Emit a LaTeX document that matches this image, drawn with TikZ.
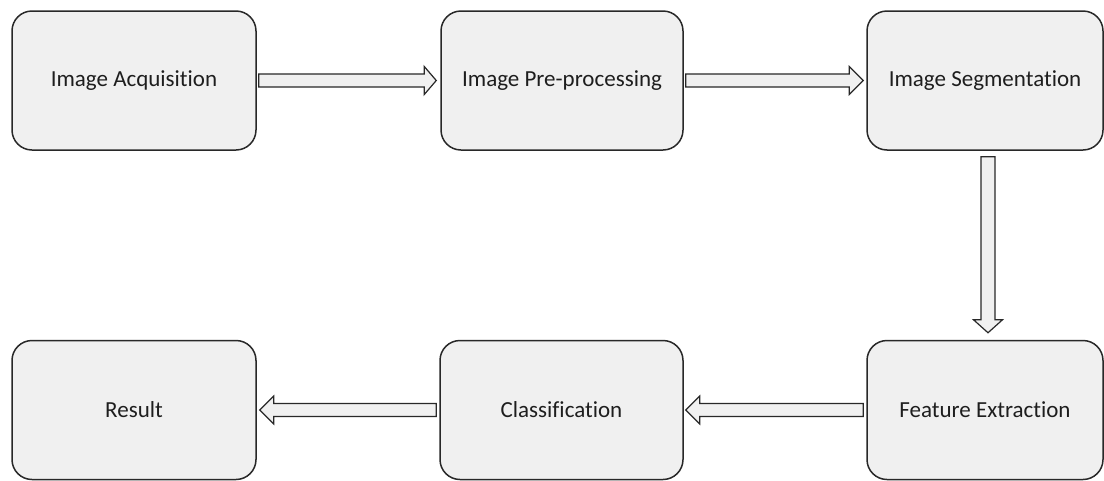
\documentclass[tikz,border=0pt]{standalone}
\usepackage{fontspec}
\setmainfont[Ligatures={NoCommon}]{Carlito}
\usetikzlibrary{calc}
\definecolor{boxfill}{RGB}{240,240,240}
\definecolor{edge}{RGB}{40,40,40}
\definecolor{txt}{RGB}{30,30,30}
\tikzset{
  stagebox/.style={rectangle, rounded corners=20pt, draw=edge, line width=1.5pt, fill=boxfill,
    minimum height=139pt, text=txt, font=\fontsize{23}{27}\selectfont, inner sep=0pt},
  barrow/.style={draw=edge, fill=boxfill, line width=1.2pt, line join=miter}
}
\begin{document}
\begin{tikzpicture}[x=1pt,y=-1pt]
\useasboundingbox[fill=white] (0,0) rectangle (1104,480);
\node[stagebox, minimum width=244pt] (acq) at (134,80.5) {Image Acquisition};
\node[stagebox, minimum width=242pt] (pre) at (562,80.5) {Image Pre-processing};
\node[stagebox, minimum width=236pt] (seg) at (985,80.5) {Image Segmentation};
\node[stagebox, minimum width=236pt] (fea) at (985,410) {Feature Extraction};
\node[stagebox, minimum width=243pt] (cla) at (561.5,410) {Classification};
\node[stagebox, minimum width=244pt] (res) at (134,410) {Result};
% right arrows
\draw[barrow] ($(acq.east)+(2,-6.5)$) -- ($(pre.west)+(-16,-6.5)$) -- ($(pre.west)+(-16,-14)$) -- ($(pre.west)+(-4,0)$) -- ($(pre.west)+(-16,14)$) -- ($(pre.west)+(-16,6.5)$) -- ($(acq.east)+(2,6.5)$) -- cycle;
\draw[barrow] ($(pre.east)+(2,-6.5)$) -- ($(seg.west)+(-17,-6.5)$) -- ($(seg.west)+(-17,-14)$) -- ($(seg.west)+(-3,0)$) -- ($(seg.west)+(-17,14)$) -- ($(seg.west)+(-17,6.5)$) -- ($(pre.east)+(2,6.5)$) -- cycle;
% down arrow
\draw[barrow] ($(seg.south)+(-4,6)$) -- ($(fea.north)+(-4,-20)$) -- ($(fea.north)+(-11.5,-20)$) -- ($(fea.north)+(3,-7)$) -- ($(fea.north)+(17.5,-20)$) -- ($(fea.north)+(10,-20)$) -- ($(seg.south)+(10,6)$) -- cycle;
% left arrows
\draw[barrow] ($(fea.west)+(-3,-6.5)$) -- ($(cla.east)+(16,-6.5)$) -- ($(cla.east)+(16,-14)$) -- ($(cla.east)+(2,0)$) -- ($(cla.east)+(16,14)$) -- ($(cla.east)+(16,6.5)$) -- ($(fea.west)+(-3,6.5)$) -- cycle;
\draw[barrow] ($(cla.west)+(-3,-6.5)$) -- ($(res.east)+(17,-6.5)$) -- ($(res.east)+(17,-14)$) -- ($(res.east)+(3,0)$) -- ($(res.east)+(17,14)$) -- ($(res.east)+(17,6.5)$) -- ($(cla.west)+(-3,6.5)$) -- cycle;
\end{tikzpicture}
\end{document}
